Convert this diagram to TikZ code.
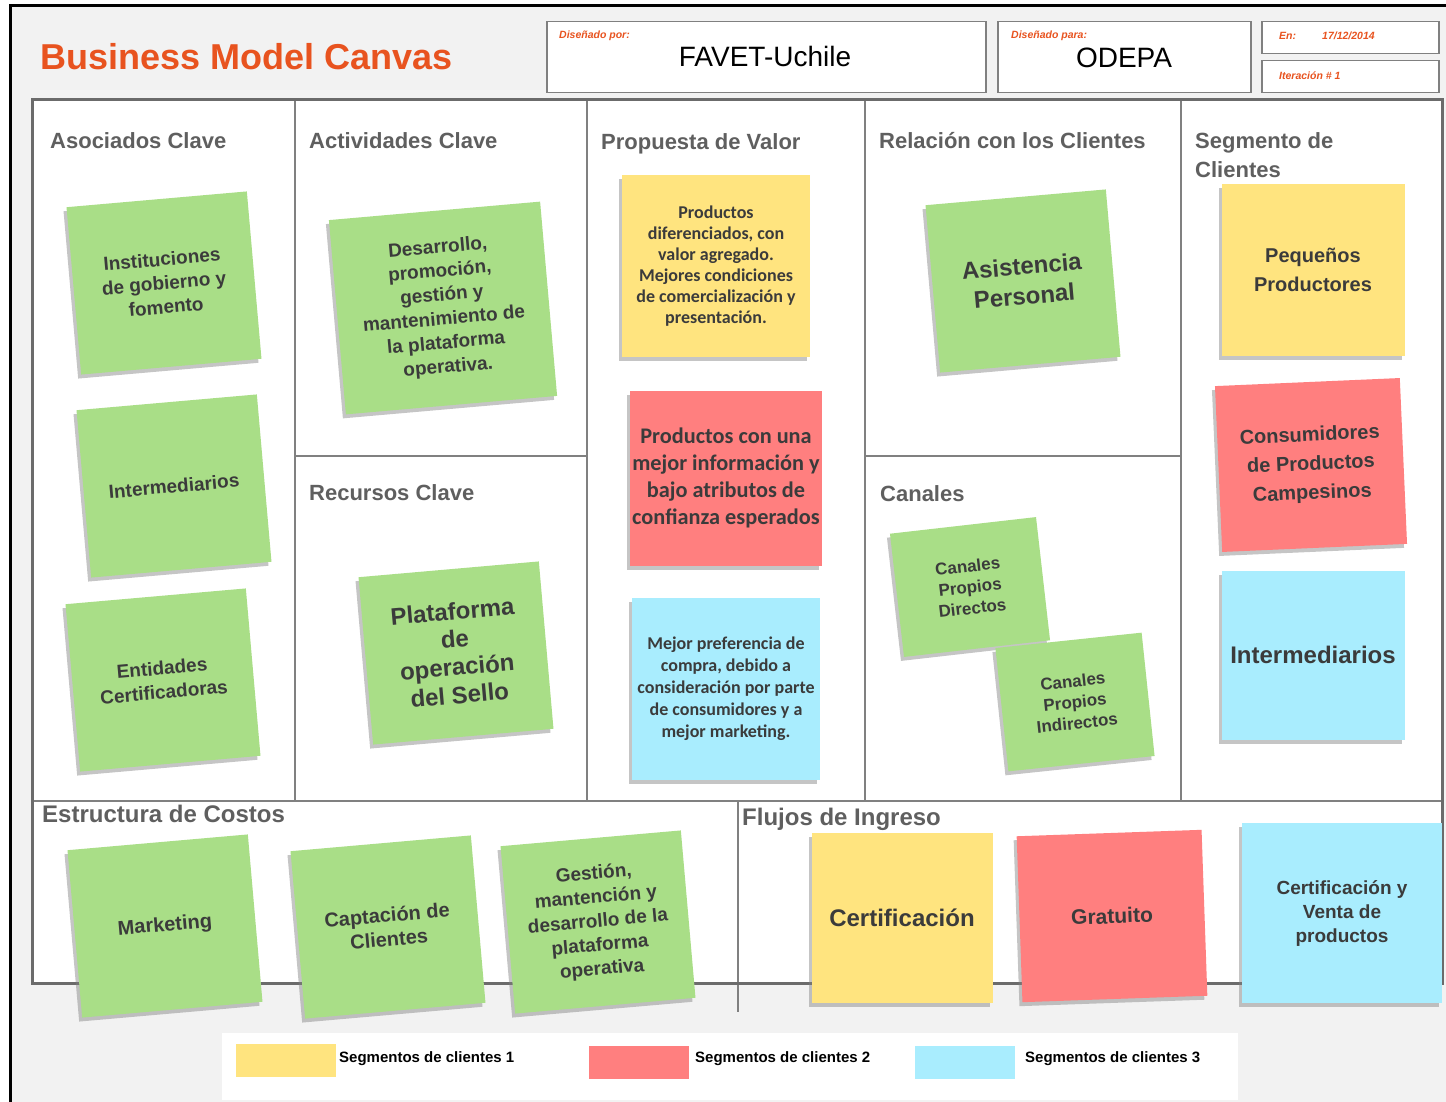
\documentclass[tikz,border=0pt]{standalone}
\usepackage{fontspec}
\setmainfont{Liberation Sans}
\newfontfamily\calib{Carlito}
\usepackage{xcolor}
\usepackage{tikz}
\usetikzlibrary{positioning, shadows}

\definecolor{bggray}{HTML}{F2F2F2}
\definecolor{titleorange}{HTML}{E8531F}
\definecolor{headgray}{HTML}{5F5F5F}
\definecolor{framegray}{HTML}{6B6B6B}
\definecolor{linegray}{HTML}{808080}
\definecolor{notegreen}{HTML}{A9DE87}
\definecolor{noteyellow}{HTML}{FFE47F}
\definecolor{notered}{HTML}{FF7F7F}
\definecolor{noteblue}{HTML}{A9EDFE}
\definecolor{notetext}{HTML}{3B3B3B}

\begin{document}
\begin{tikzpicture}[x=1pt,y=-1pt]
\tikzstyle{note}=[align=center, text=notetext, inner sep=2pt, drop shadow={shadow xshift=-3pt,shadow yshift=-4pt,opacity=.45}]
\tikzstyle{gnote}=[note, fill=notegreen, minimum width=181, minimum height=168, rotate=5, font=\bfseries\fontsize{19}{24}\selectfont]
\tikzstyle{ynote}=[note, fill=noteyellow, minimum width=183, minimum height=171]
\tikzstyle{rnote}=[note, fill=notered, minimum width=185, minimum height=166]
\tikzstyle{bnote}=[note, fill=noteblue, minimum width=183, minimum height=169]
\tikzstyle{head}=[anchor=base west, inner sep=0, text=headgray, align=left, font=\bfseries\fontsize{22}{29}\selectfont]
\tikzstyle{bighead}=[head, font=\bfseries\fontsize{24}{29}\selectfont]
\tikzstyle{hbox}=[draw=linegray, line width=1.5pt, fill=white, anchor=north west, inner sep=0]
\tikzstyle{small}=[anchor=base west, inner sep=0, text=titleorange, font=\bfseries\itshape\fontsize{10.5}{12}\selectfont]
\tikzstyle{swatch}=[anchor=north west, minimum width=100, minimum height=33, inner sep=0]
\tikzstyle{legtext}=[anchor=base west, inner sep=0, font=\bfseries\fontsize{15}{17}\selectfont]

% background and page border
\useasboundingbox (0,0) rectangle (1446,1102);
\fill[white] (0,0) rectangle (1446,1102);
\fill[bggray] (10,6) rectangle (1446,1102);
\draw[line width=3pt] (10,1102) -- (10,6) -- (1446,6);

% header
\node[anchor=base west, inner sep=0, text=titleorange, font=\bfseries\fontsize{36}{40}\selectfont] (title) at (40,70) {Business Model Canvas};
\node[hbox, minimum width=439, minimum height=71] (por) at (546,21) {};
\node[hbox, minimum width=253, minimum height=71] (para) at (997,21) {};
\node[hbox, minimum width=177, minimum height=32] (fecha) at (1261,21) {};
\node[hbox, minimum width=177, minimum height=32] (iter) at (1261,60) {};
\node[small] at (559,39) {Diseñado por:};
\node[anchor=base, inner sep=0, font=\fontsize{28}{30}\selectfont] at (765,67) {FAVET-Uchile};
\node[small] at (1011,39) {Diseñado para:};
\node[anchor=base, inner sep=0, font=\fontsize{28}{30}\selectfont] at (1124,68) {ODEPA};
\node[small] at (1279,40) {En:};
\node[small] at (1322,40) {17/12/2014};
\node[small] at (1279,80) {Iteración \# 1};

% canvas grid
\fill[white] (32,100) rectangle (1442,983);
\draw[linegray, line width=2pt] (295,100) -- (295,801);
\draw[linegray, line width=2pt] (587,100) -- (587,801);
\draw[linegray, line width=2pt] (865,100) -- (865,801);
\draw[linegray, line width=2pt] (1181,100) -- (1181,801);
\draw[linegray, line width=2pt] (295,456) -- (587,456);
\draw[linegray, line width=2pt] (865,456) -- (1181,456);
\draw[linegray, line width=2pt] (32,801) -- (1442,801);
\draw[linegray, line width=2pt] (738,801) -- (738,1012);
\draw[framegray, line width=3pt] (32,100) rectangle (1442,983);

% headings
\node[head] at (50,149) {Asociados Clave};
\node[head] at (309,149) {Actividades Clave};
\node[head] at (601,150) {Propuesta de Valor};
\node[head] at (879,149) {Relación con los Clientes};
\node[head] at (1195,149) {Segmento de};
\node[head] at (1195,178) {Clientes};
\node[head] at (309,500) {Recursos Clave};
\node[head] at (880,501) {Canales};
\node[bighead] at (42,822) {Estructura de Costos};
\node[bighead] at (742,825) {Flujos de Ingreso};

% notes
\node[gnote] (inst) at (164,283) {Instituciones\\de gobierno y\\fomento};
\node[gnote] (inter1) at (174,486) {Intermediarios};
\node[gnote] (entid) at (163,680) {Entidades\\Certificadoras};
\node[gnote, minimum width=212, minimum height=195] (desar) at (443,308) {Desarrollo,\\promoción,\\gestión y\\mantenimiento de\\la plataforma\\operativa.};
\node[gnote, font=\bfseries\fontsize{24}{28}\selectfont] (plat) at (456,653) {Plataforma\\de\\operación\\del Sello};
\node[ynote, minimum width=188, minimum height=182, font=\calib\bfseries\fontsize{18}{21}\selectfont] (prod) at (716,266) {Productos\\diferenciados, con\\valor agregado.\\Mejores condiciones\\de comercialización y\\presentación.};
\node[rnote, minimum width=192, minimum height=175, font=\calib\bfseries\fontsize{22.3}{27}\selectfont] (conf) at (726,478) {Productos con una\\mejor información y\\bajo atributos de\\confianza esperados};
\node[bnote, minimum width=188, minimum height=182, font=\calib\bfseries\fontsize{18}{22}\selectfont] (pref) at (726,689) {Mejor preferencia de\\compra, debido a\\consideración por parte\\de consumidores y a\\mejor marketing.};
\node[gnote, font=\bfseries\fontsize{24}{30}\selectfont] (asist) at (1023,281) {Asistencia\\Personal};
\node[gnote, minimum width=147, minimum height=124, rotate=1.5, font=\bfseries\fontsize{17}{21}\selectfont] (cdir) at (970,587) {Canales\\Propios\\Directos};
\node[gnote, minimum width=147, minimum height=124, rotate=1, font=\bfseries\fontsize{17}{21}\selectfont] (cind) at (1075,702) {Canales\\Propios\\Indirectos};
\node[ynote, font=\bfseries\fontsize{20}{29}\selectfont] (peq) at (1313,270) {Pequeños\\Productores};
\node[rnote, rotate=2.5, font=\bfseries\fontsize{20}{29}\selectfont] (cons) at (1311,465) {Consumidores\\de Productos\\Campesinos};
\node[bnote, font=\bfseries\fontsize{24}{28}\selectfont] (inter2) at (1313,655) {Intermediarios};
\node[gnote, font=\bfseries\fontsize{20}{24}\selectfont] (mkt) at (165,926) {Marketing};
\node[gnote, font=\bfseries\fontsize{20}{24}\selectfont] (capt) at (388,927) {Captación de\\Clientes};
\node[gnote] (gest) at (598,922) {Gestión,\\mantención y\\desarrollo de la\\plataforma\\operativa};
\node[ynote, minimum width=181, minimum height=170, font=\bfseries\fontsize{24}{28}\selectfont] (cert) at (902,918) {Certificación};
\node[rnote, rotate=2, font=\bfseries\fontsize{21}{25}\selectfont] (grat) at (1112,916) {Gratuito};
\node[bnote, minimum width=200, minimum height=180, font=\bfseries\fontsize{19}{24}\selectfont] (certv) at (1342,913) {Certificación y\\Venta de\\productos};

% legend
\node[anchor=north west, fill=white, minimum width=1016, minimum height=67, inner sep=0] (leg) at (222,1033) {};
\node[swatch, fill=noteyellow] (sw1) at (236,1044) {};
\node[swatch, fill=notered] (sw2) at (589,1046) {};
\node[swatch, fill=noteblue] (sw3) at (915,1046) {};
\node[legtext] at (339,1062) {Segmentos de clientes 1};
\node[legtext] at (695,1062) {Segmentos de clientes 2};
\node[legtext] at (1025,1062) {Segmentos de clientes 3};
\end{tikzpicture}
\end{document}
